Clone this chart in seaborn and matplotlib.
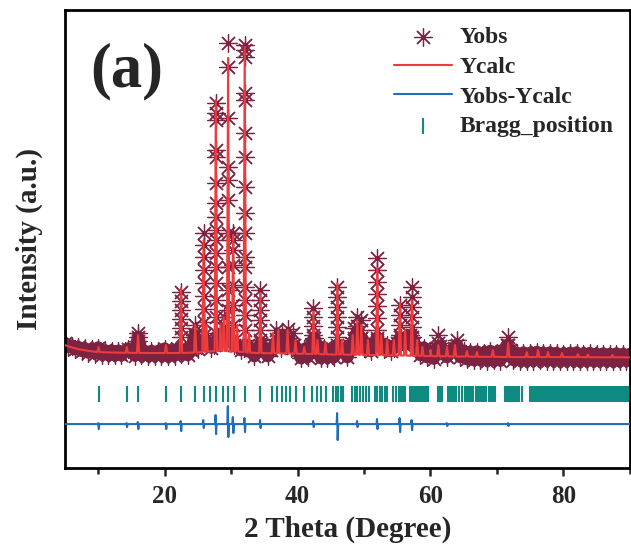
import numpy as np
import pandas as pd
import matplotlib
matplotlib.use('Agg')
import matplotlib.pyplot as plt
import seaborn as sns

obs_bg_counts = [
    1040, 960, 990, 915, 960, 885, 935, 850, 915, 830,
    950, 810, 895, 800, 890, 795, 885, 795, 880, 930,
    880, 790, 1160, 800, 880, 790, 880, 790, 880, 790,
    930, 790, 885, 790, 920, 820, 900, 800, 900, 1200,
    930, 1000, 1100, 1050, 950, 1000, 1150, 1100, 1200, 1150,
    1100, 1000, 1000, 900, 950, 1000, 900, 780, 900, 1050,
    880, 780, 900, 1000, 1100, 950, 1050, 1100, 950, 1000,
    900, 740, 920, 760, 1000, 1150, 960, 740, 950, 750,
    900, 760, 1000, 950, 920, 760, 960, 1100, 1200, 1150,
    950, 1000, 880, 1000, 1150, 1000, 920, 1000, 880, 950,
    1050, 1150, 1000, 1150, 1200, 1050, 950, 800, 950, 760,
    880, 730, 950, 980, 880, 760, 860, 950, 1000, 760,
    880, 720, 860, 700, 870, 700, 850, 690, 880, 700,
    850, 690, 860, 1000, 900, 700, 840, 690, 850, 690,
    840, 690, 860, 700, 840, 690, 850, 690, 840, 690,
    830, 690, 840, 690, 850, 680, 830, 690, 840, 680,
    820, 680, 830, 680, 820, 680, 830, 680, 820, 680,
    820,
]

# observed points stacked on the flanks of each reflection
col_theta = [16.0, 22.45, 24.6, 25.85, 27.7, 28.9, 29.55, 30.3, 32.05, 34.4,
             36.8, 37.6, 38.6, 39.3, 42.4, 46.0, 48.5, 49.0, 49.6, 52.0,
             55.4, 57.2, 61.2, 64.0, 71.7]
col_counts = [
    [1240, 1080],
    [2060, 1880, 1700, 1520, 1340, 1160],
    [1400, 1200],
    [3240, 3000, 2760, 2500, 2240, 1980, 1720, 1460, 1200],
    [5840, 5640, 5500, 4900, 4760, 4240, 3840, 3560, 3300, 3100, 2840, 2560, 2240, 1900, 1560, 1240],
    [1560, 1350],
    [7040, 6560, 5540, 4560, 4300, 3900, 3240, 2560, 2100, 1700, 1300],
    [3240, 3100, 2900, 2600, 2200, 1800, 1400],
    [7000, 6900, 6760, 6040, 5900, 5240, 4760, 4160, 3640, 3240, 2760, 2560, 2160, 1900, 1600, 1300],
    [2100, 1900, 1700, 1500, 1300, 1100],
    [1300, 1120],
    [1240],
    [1320, 1140],
    [1250],
    [1740, 1560, 1380, 1200],
    [2160, 1960, 1760, 1560, 1360, 1160],
    [1350, 1150],
    [1560, 1380, 1200],
    [1500, 1300, 1150],
    [2740, 2500, 2260, 2020, 1780, 1540, 1300, 1100],
    [1800, 1600, 1400, 1200],
    [2160, 1960, 1760, 1560, 1360, 1160],
    [1200, 1050],
    [1100],
    [1160, 1000],
]

# calculated pattern: background and reflections (position, apex, foot)
calc_bg_theta = [5, 5.5, 6, 7, 8, 9, 11, 13, 15, 20, 30, 40, 50, 60, 70, 80, 90]
calc_bg_counts = [1000, 975, 955, 920, 895, 875, 855, 848, 845, 842, 860, 825, 800, 780, 765, 760, 755]
calc_peak_theta = [10.05, 14.3, 16.0, 20.2, 22.45, 24.6, 25.85, 26.3, 27.7, 28.4,
                   28.9, 29.55, 30.3, 30.9, 32.05, 32.7, 34.4, 36.3, 37.1, 38.5,
                   39.7, 41.0, 42.4, 43.0, 44.2, 46.0, 46.7, 48.3, 49.0, 49.6,
                   50.6, 52.0, 52.6, 53.5, 54.5, 55.4, 56.2, 57.2, 58.0, 58.8,
                   60.0, 61.2, 62.5, 63.7, 65.5, 67.0, 69.4, 71.7, 74.5, 76.2,
                   77.7, 79.8, 82.2, 83.7, 87.4]
calc_peak_top = [960, 960, 1200, 1000, 2140, 1400, 3100, 1400, 5900, 1400,
                 1560, 6740, 3200, 1400, 6960, 1240, 2040, 1240, 1300, 1300,
                 1100, 960, 1660, 1100, 1060, 2240, 1100, 1200, 1500, 1400,
                 1100, 2540, 1200, 1100, 1100, 1840, 1300, 1900, 1100, 960,
                 900, 1000, 960, 1000, 880, 860, 900, 1040, 860, 900,
                 860, 840, 820, 810, 800]
calc_peak_base = [860, 845, 842, 840, 842, 850, 860, 870, 880, 880,
                  880, 880, 880, 870, 860, 850, 840, 835, 835, 830,
                  830, 825, 820, 820, 815, 810, 810, 805, 805, 805,
                  800, 800, 800, 795, 795, 790, 790, 785, 785, 780,
                  780, 775, 775, 770, 770, 765, 765, 760, 760, 760,
                  760, 760, 758, 757, 755]

# difference curve: spikes (position, upper, lower) around a flat level
diff_level = -580
diff_theta = [10.05, 14.3, 16.0, 20.2, 22.45, 25.85, 27.7, 29.55, 30.3, 32.05,
              34.4, 42.4, 46.0, 49.0, 52.0, 55.4, 57.2, 62.5, 71.7]
diff_up = [-560, -560, -540, -560, -520, -500, -400, -220, -440, -460,
           -500, -520, -360, -520, -480, -460, -500, -560, -560]
diff_down = [-680, -640, -680, -680, -720, -660, -780, -840, -760, -740,
             -660, -640, -900, -640, -680, -740, -700, -620, -620]

# Bragg reflection positions
bragg_theta = [10.05, 14.3, 16.0, 20.2, 22.45, 24.6, 25.85, 26.8, 27.7, 28.8,
               29.6, 30.4, 32.05, 34.4, 36.2, 36.9, 37.6, 38.3, 38.9, 39.7,
               41.0, 42.2, 42.9, 43.6, 44.3, 45.4, 45.8, 46.1, 46.5, 46.9,
               48.2, 48.6, 49.0, 49.4, 49.8, 50.3, 50.7, 51.7, 52.0, 52.4,
               52.7, 53.1, 53.5, 54.4, 54.8, 55.2, 55.6, 55.9, 56.2, 57.0,
               57.3, 57.6, 57.9, 58.2, 58.5, 58.8, 59.1, 59.4, 59.7, 61.2,
               61.5, 61.8, 62.7, 63.0, 63.3, 63.6, 63.9, 64.3, 64.7, 65.2,
               65.5, 65.8, 66.1, 66.4, 66.8, 67.1, 67.4, 67.8, 68.1, 68.4,
               68.8, 69.1, 69.4, 69.7, 71.2, 71.5, 71.8, 72.1, 72.4, 72.8,
               73.1, 73.4, 73.8, 75.0, 75.3, 75.5, 75.8, 76.1, 76.3, 76.6,
               76.9, 77.2, 77.4, 77.7, 78.0, 78.3, 78.5, 78.8, 79.1, 79.4,
               79.6, 79.9, 80.2, 80.5, 80.7, 81.0, 81.3, 81.6, 81.8, 82.1,
               82.4, 82.7, 82.9, 83.2, 83.5, 83.8, 84.0, 84.3, 84.6, 84.9,
               85.1, 85.4, 85.7, 86.0, 86.2, 86.5, 86.8, 87.1, 87.3, 87.6,
               87.9, 88.2, 88.4, 88.7, 89.0, 89.3, 89.5, 89.8]
bragg_level = 30

# colours
c_obs = '#7d2240'
c_calc = '#ef3b3b'
c_diff = '#1f6ebe'
c_bragg = '#0f8a80'

# build the tables
bg_theta = list(np.arange(5.0, 90.01, 0.5))
bg_df = pd.DataFrame({'theta': bg_theta, 'counts': obs_bg_counts})
obs_theta = list(bg_theta)
obs_counts = list(obs_bg_counts)
for t, vals in zip(col_theta, col_counts):
    obs_theta += [t] * len(vals)
    obs_counts += vals
obs_df = pd.DataFrame({'theta': obs_theta, 'counts': obs_counts})

hw = 0.18
calc_pts = list(zip(calc_bg_theta, calc_bg_counts))
for p, top, base in zip(calc_peak_theta, calc_peak_top, calc_peak_base):
    calc_pts += [(p - hw, base), (p, top), (p + hw, base)]
calc_pts.sort()
calc_df = pd.DataFrame(calc_pts, columns=['theta', 'counts'])

diff_pts = [(5.0, diff_level), (90.0, diff_level)]
for p, up, dn in zip(diff_theta, diff_up, diff_down):
    diff_pts += [(p - 0.12, diff_level), (p - 0.04, up), (p + 0.04, dn), (p + 0.12, diff_level)]
diff_pts.sort()
diff_df = pd.DataFrame(diff_pts, columns=['theta', 'counts'])

bragg_df = pd.DataFrame({'theta': bragg_theta, 'counts': [bragg_level] * len(bragg_theta)})

sns.set_theme(style='ticks')
plt.rcParams['font.family'] = ['Liberation Serif', 'DejaVu Serif']
plt.rcParams['font.weight'] = 'bold'

fig = plt.figure(figsize=(6.31, 5.52), dpi=100)
ax = fig.add_axes([0.103, 0.152, 0.895, 0.830])

# dense observed background band (thousands of overlapping symbols in the original)
sns.lineplot(data=bg_df, x='theta', y='counts', ax=ax, estimator=None, sort=False,
             color=c_obs, lw=9, solid_joinstyle='round', zorder=1, legend=False)
sns.scatterplot(data=obs_df, x='theta', y='counts', ax=ax, marker=(8, 2, 0), s=160,
                color=c_obs, linewidth=0.9, label='Yobs', zorder=2)
sns.lineplot(data=calc_df, x='theta', y='counts', ax=ax, estimator=None, sort=False,
             color=c_calc, lw=1.5, label='Ycalc', zorder=3)
sns.lineplot(data=diff_df, x='theta', y='counts', ax=ax, estimator=None, sort=False,
             color=c_diff, lw=1.5, label='Yobs-Ycalc', zorder=3)
sns.scatterplot(data=bragg_df, x='theta', y='counts', ax=ax, marker='|', s=120,
                color=c_bragg, linewidth=1.5, label='Bragg_position', zorder=3)

ax.set_xlim(5, 90)
ax.set_ylim(-1460, 7700)
ax.set_xticks([20, 40, 60, 80])
ax.set_xticks([10, 30, 50, 70, 90], minor=True)
ax.set_yticks([])
ax.tick_params(axis='x', which='major', direction='out', length=6, width=1.8,
               labelsize=18, pad=6)
ax.tick_params(axis='x', which='minor', direction='out', length=4, width=1.8)
for lab in ax.get_xticklabels():
    lab.set_fontweight('bold')
for sp in ax.spines.values():
    sp.set_linewidth(2.0)
    sp.set_color('black')

ax.set_xlabel('2 Theta (Degree)', fontsize=21, fontweight='bold', labelpad=6)
ax.set_ylabel('Intensity (a.u.)', fontsize=21, fontweight='bold', labelpad=16)

ax.text(0.11, 0.865, '(a)', transform=ax.transAxes, fontsize=45, fontweight='bold',
        ha='center', va='center')

handles, labels = ax.get_legend_handles_labels()
leg = ax.legend(handles, labels, loc='upper right', bbox_to_anchor=(1.0, 1.0), frameon=False,
                prop={'size': 17, 'weight': 'bold'}, handlelength=2.45,
                handletextpad=0.3, labelspacing=0.35, borderaxespad=0.3)

fig.savefig('out.png', dpi=100)
